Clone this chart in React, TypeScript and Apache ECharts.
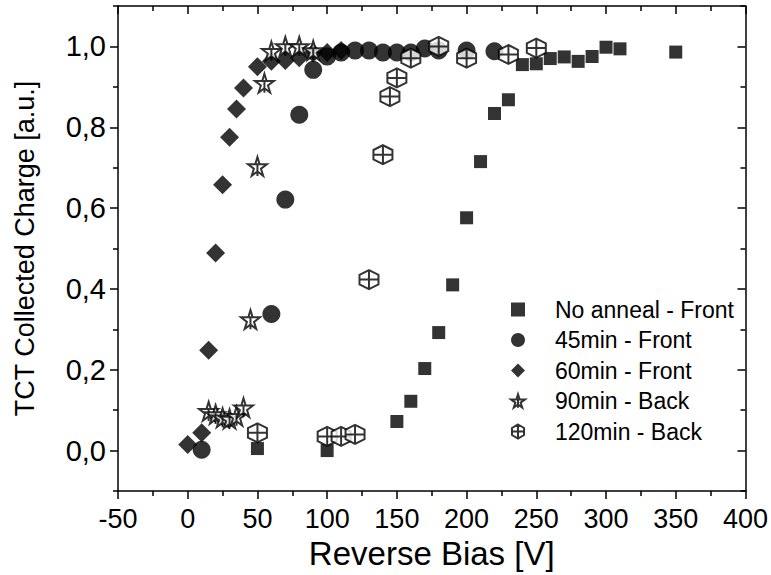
import React, { useEffect, useRef } from "react";
import * as echarts from "echarts";

// ---------- data ----------
const seriesNames = [
  "No anneal - Front",
  "45min - Front",
  "60min - Front",
  "90min - Back",
  "120min - Back",
];

const noAnnealV = [50, 100, 150, 160, 170, 180, 190, 200, 210, 220, 230, 240, 250, 260, 270, 280, 290, 300, 310, 350];
const noAnnealQ = [0.005, 0.0, 0.072, 0.122, 0.203, 0.292, 0.41, 0.576, 0.715, 0.834, 0.868, 0.955, 0.957, 0.97, 0.974, 0.963, 0.975, 0.998, 0.994, 0.986];

const min45V = [10, 60, 70, 80, 90, 100, 110, 120, 130, 140, 150, 160, 170, 180, 200, 220];
const min45Q = [0.002, 0.338, 0.621, 0.831, 0.942, 0.975, 0.985, 0.99, 0.99, 0.985, 0.985, 0.985, 0.995, 0.99, 0.99, 0.988];

const min60V = [0, 10, 15, 20, 25, 30, 35, 40, 50, 60, 70, 80, 90, 100, 110];
const min60Q = [0.015, 0.044, 0.248, 0.489, 0.658, 0.775, 0.845, 0.897, 0.95, 0.963, 0.965, 0.972, 0.984, 0.985, 0.99];

const min90V = [15, 20, 25, 30, 35, 40, 45, 50, 55, 60, 70, 80, 90];
const min90Q = [0.097, 0.089, 0.081, 0.078, 0.085, 0.106, 0.324, 0.703, 0.909, 0.988, 1.0, 1.0, 0.99];

const min120V = [50, 100, 110, 120, 130, 140, 145, 150, 160, 180, 200, 230, 250];
const min120Q = [0.044, 0.035, 0.035, 0.04, 0.423, 0.732, 0.876, 0.922, 0.971, 1.0, 0.971, 0.98, 0.996];

const xMin = -50;
const xMax = 400;
const xStep = 50;
const yMin = -0.1;
const yMax = 1.1;
const yMajorTicks = [0, 0.2, 0.4, 0.6, 0.8, 1.0];
const yMinorTicks = [-0.1, 0.1, 0.3, 0.5, 0.7, 0.9, 1.1];

// ---------- symbols ----------
const starPath =
  "path://M50 0 L61 35 L98 35 L68 57 L79 91 L50 70 L21 91 L32 57 L2 35 L39 35 Z M39 35 L61 35 M50 35 L50 92";
const hexPath =
  "path://M50 0 L93 25 L93 75 L50 100 L7 75 L7 25 Z M7 50 L93 50 M50 0 L50 100";

const FONT = "'Liberation Sans', Arial, Helvetica, sans-serif";

export default function App() {
  const ref = useRef<HTMLDivElement>(null);

  useEffect(() => {
    if (!ref.current) return;
    const chart = echarts.init(ref.current, null, { renderer: "svg" });

    const black = "#000";
    const lineW = 1.5;

    const mkX = (pos: "bottom" | "top") => ({
      type: "value",
      position: pos,
      min: xMin,
      max: xMax,
      interval: xStep,
      axisLine: { show: true, onZero: false, lineStyle: { color: black, width: lineW } },
      axisTick: { show: true, inside: pos === "top", length: 8, lineStyle: { color: black, width: lineW } },
      minorTick: { show: true, splitNumber: 2, length: 5, lineStyle: { color: black, width: lineW } },
      axisLabel: {
        show: pos === "bottom",
        fontSize: 27,
        color: black,
        fontFamily: FONT,
        margin: 14,
        formatter: (v: number) => String(v),
      },
      splitLine: { show: false },
      ...(pos === "bottom"
        ? {
            name: "Reverse Bias [V]",
            nameLocation: "middle",
            nameGap: 46,
            nameTextStyle: { fontSize: 33, color: black, fontFamily: FONT },
          }
        : {}),
    });

    const mkY = (pos: "left" | "right", major: boolean) => ({
      type: "value",
      position: pos,
      min: yMin,
      max: yMax,
      axisLine: { show: major, onZero: false, lineStyle: { color: black, width: lineW } },
      axisTick: {
        show: true,
        inside: pos === "right",
        length: major ? 8 : 5,
        customValues: major ? yMajorTicks : yMinorTicks,
        lineStyle: { color: black, width: lineW },
      },
      axisLabel: {
        show: pos === "left" && major,
        customValues: yMajorTicks,
        fontSize: 29,
        color: black,
        fontFamily: FONT,
        margin: 12,
        formatter: (v: number) => v.toFixed(1).replace(".", ","),
      },
      splitLine: { show: false },
      ...(pos === "left" && major
        ? {
            name: "TCT Collected Charge [a.u.]",
            nameLocation: "middle",
            nameGap: 80,
            nameTextStyle: { fontSize: 27, color: black, fontFamily: FONT },
          }
        : {}),
    });

    const filled = { color: black };
    const hollow = { color: "#fff", borderColor: black, borderWidth: 2 };

    const mkSeries = (
      name: string,
      xs: number[],
      ys: number[],
      symbol: string,
      size: number,
      itemStyle: any
    ) => ({
      type: "scatter",
      name,
      xAxisIndex: 0,
      yAxisIndex: 0,
      symbol,
      symbolSize: size,
      itemStyle,
      data: xs.map((x, i) => [x, ys[i]]),
    });

    const option: any = {
      animation: false,
      backgroundColor: "#fff",
      textStyle: { fontFamily: FONT },
      grid: { left: 118, right: 23, top: 6, bottom: 83, containLabel: false },
      xAxis: [mkX("bottom"), mkX("top")],
      yAxis: [mkY("left", true), mkY("left", false), mkY("right", true), mkY("right", false)],
      legend: {
        orient: "vertical",
        left: 505,
        top: 293,
        itemWidth: 14,
        itemHeight: 14,
        itemGap: 7.5,
        selectedMode: false,
        textStyle: { fontSize: 23, color: black, fontFamily: FONT, padding: [0, 0, 0, 25] },
        data: seriesNames,
      },
      series: [
        mkSeries(seriesNames[0], noAnnealV, noAnnealQ, "rect", 13, filled),
        mkSeries(seriesNames[1], min45V, min45Q, "circle", 18, filled),
        mkSeries(seriesNames[2], min60V, min60Q, "diamond", 19, filled),
        mkSeries(seriesNames[3], min90V, min90Q, starPath, 19, hollow),
        mkSeries(seriesNames[4], min120V, min120Q, hexPath, 19, hollow),
      ],
    };

    chart.setOption(option);
    return () => chart.dispose();
  }, []);

  return (
    <div
      ref={ref}
      style={{ position: "fixed", left: 0, top: 0, width: 771, height: 575, background: "#fff" }}
    />
  );
}
